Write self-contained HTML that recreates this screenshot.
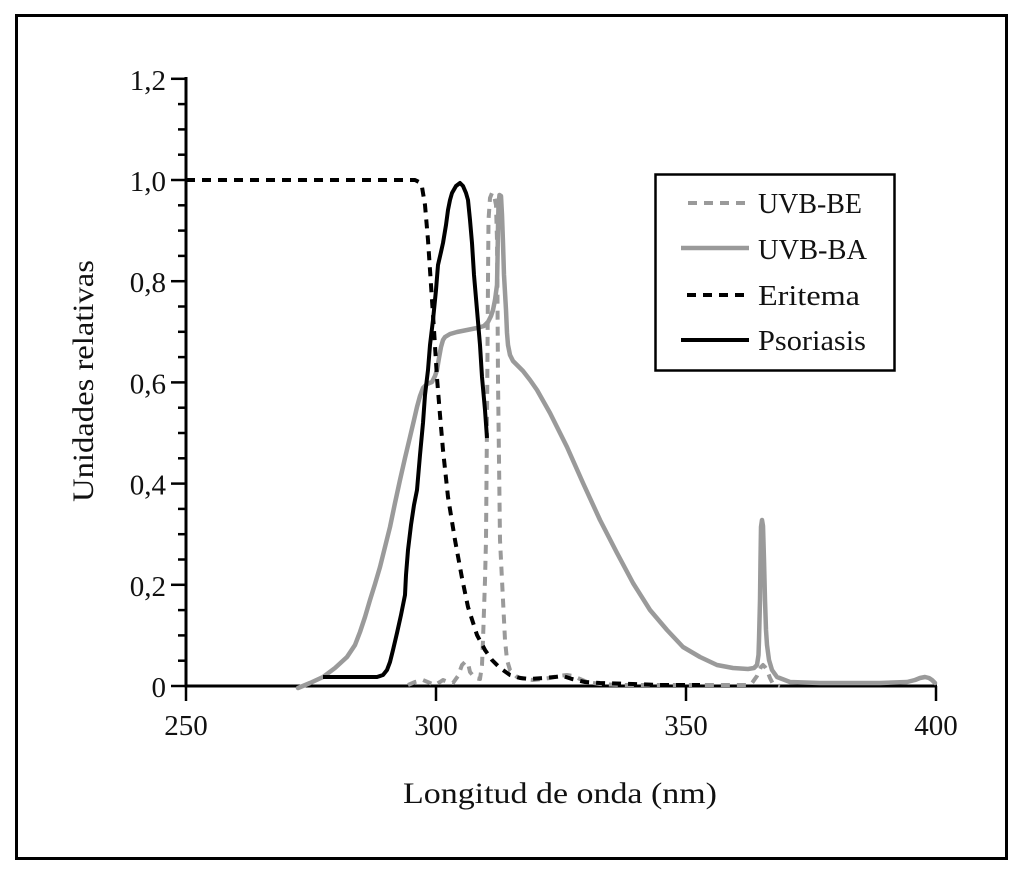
<!DOCTYPE html>
<html>
<head>
<meta charset="utf-8">
<style>
  html, body { margin: 0; padding: 0; background: #fff; }
  svg { display: block; }
  text { font-family: "Liberation Serif", serif; fill: #111; }
</style>
</head>
<body>
<svg width="1024" height="875" viewBox="0 0 1024 875" xmlns="http://www.w3.org/2000/svg">
  <rect x="0" y="0" width="1024" height="875" fill="#fff"/>
  <!-- outer frame -->
  <rect x="16.5" y="15.5" width="990" height="843" fill="none" stroke="#000" stroke-width="3"/>

  <!-- axes -->
  <g stroke="#000" stroke-width="3" fill="none">
    <line x1="186" y1="77" x2="186" y2="687"/>
    <line x1="184.5" y1="686" x2="937" y2="686"/>
  </g>
  <!-- y ticks major -->
  <g stroke="#000" stroke-width="2.5">
    <line x1="171" y1="686" x2="186" y2="686"/>
    <line x1="171" y1="584.8" x2="186" y2="584.8"/>
    <line x1="171" y1="483.6" x2="186" y2="483.6"/>
    <line x1="171" y1="382.4" x2="186" y2="382.4"/>
    <line x1="171" y1="281.2" x2="186" y2="281.2"/>
    <line x1="171" y1="180" x2="186" y2="180"/>
    <line x1="171" y1="78.8" x2="186" y2="78.8"/>
  </g>
  <!-- y ticks minor -->
  <g stroke="#000" stroke-width="2.5">
    <line x1="178" y1="660.7" x2="186" y2="660.7"/>
    <line x1="178" y1="635.4" x2="186" y2="635.4"/>
    <line x1="178" y1="610.1" x2="186" y2="610.1"/>
    <line x1="178" y1="559.5" x2="186" y2="559.5"/>
    <line x1="178" y1="534.2" x2="186" y2="534.2"/>
    <line x1="178" y1="508.9" x2="186" y2="508.9"/>
    <line x1="178" y1="458.3" x2="186" y2="458.3"/>
    <line x1="178" y1="433" x2="186" y2="433"/>
    <line x1="178" y1="407.7" x2="186" y2="407.7"/>
    <line x1="178" y1="357.1" x2="186" y2="357.1"/>
    <line x1="178" y1="331.8" x2="186" y2="331.8"/>
    <line x1="178" y1="306.5" x2="186" y2="306.5"/>
    <line x1="178" y1="255.9" x2="186" y2="255.9"/>
    <line x1="178" y1="230.6" x2="186" y2="230.6"/>
    <line x1="178" y1="205.3" x2="186" y2="205.3"/>
    <line x1="178" y1="154.7" x2="186" y2="154.7"/>
    <line x1="178" y1="129.4" x2="186" y2="129.4"/>
    <line x1="178" y1="104.1" x2="186" y2="104.1"/>
  </g>
  <!-- x ticks -->
  <g stroke="#000" stroke-width="2.5">
    <line x1="186" y1="686" x2="186" y2="701"/>
    <line x1="436" y1="686" x2="436" y2="701"/>
    <line x1="686" y1="686" x2="686" y2="701"/>
    <line x1="936" y1="686" x2="936" y2="701"/>
  </g>

  <!-- y labels -->
  <g font-size="29" text-anchor="end">
    <text x="166" y="697">0</text>
    <text x="166" y="595.8">0,2</text>
    <text x="166" y="494.6">0,4</text>
    <text x="166" y="393.4">0,6</text>
    <text x="166" y="292.2">0,8</text>
    <text x="166" y="191">1,0</text>
    <text x="166" y="89.8">1,2</text>
  </g>
  <!-- x labels -->
  <g font-size="29" text-anchor="middle">
    <text x="186" y="735">250</text>
    <text x="436" y="735">300</text>
    <text x="686" y="735">350</text>
    <text x="936" y="735">400</text>
  </g>

  <!-- axis titles -->
  <text x="403" y="803" font-size="30" textLength="314" lengthAdjust="spacingAndGlyphs">Longitud de onda (nm)</text>
  <text x="93" y="381" font-size="30" text-anchor="middle" transform="rotate(-90 93 381)" textLength="242" lengthAdjust="spacingAndGlyphs">Unidades relativas</text>

  <!-- UVB-BA gray solid -->
  <polyline fill="none" stroke="#9a9a9a" stroke-width="4.5" stroke-linejoin="round" stroke-linecap="round"
    points="298,688 310,683 323,677 335,668 347,657 355,645 360,632 365,617 370,600 375,584 380,567 385,547 390,527 395,503 400,480 405,458 410,437 414,420 417,407 420,396 423,388 427,384 432,382 435,376 437,370 439,358 441,347 443,340 445,337 450,334 457,332 467,330 477,328 484,326 488,322 491,316 493,310 495,300 497,285 497.5,260 498,227 498.5,205 499.5,195 501,196 502,215 503,243 504,275 506,310 507,333 508,345 510,355 513,361 518,366 523,371 530,380 537,390 550,413 567,447 583,483 600,520 617,553 633,583 650,610 667,630 683,647 700,657 717,665 733,668 748,669 754,668 757,665 758.5,655 759,640 760,600 760.5,560 761,527 762,520 763,526 764,560 765,600 766,630 767,645 769,660 772,670 777,677 790,682 820,683 847,683 880,683 907,682 915,680 920,678 925,677 929,678 932,680 935,683"/>

  <!-- UVB-BE gray dashed -->
  <polyline fill="none" stroke="#9a9a9a" stroke-width="4" stroke-dasharray="9 7" stroke-linejoin="round"
    points="408,685 415,682 423,680 430,683 435,685 440,682 443,680 448,682 453,683 458,676 462,665 465,662 468,663 470,672 475,678 480,679 482,665 483,640 484,610 485,580 486,540 486.5,480 487,420 487.5,350 488,280 488.5,220 490,198 492,193 494,195 496,205 497,240 497.5,300 498,380 499,460 500,540 502,580 503,600 505,640 507,660 510,670 517,677 525,679 533,680 542,679 550,678 558,676 567,675 573,676 580,679 587,682 600,684 620,685 640,685 700,685 748,685 752,683 757,676 761,667 763,665 765,667 767,670 770,678 773,684 780,686"/>

  <!-- Eritema black dashed -->
  <polyline fill="none" stroke="#000" stroke-width="4" stroke-dasharray="9 7" stroke-linejoin="round"
    points="186,180 415,180 419,182 422,187 425,205 428,240 431,285 434,330 437,378 440,415 443,450 448,497 455,540 462,578 468,607 477,635 485,650 492,660 500,668 510,675 520,678 530,679 543,678 555,677 563,676 572,679 585,682 600,683 633,684 660,685 700,685"/>

  <!-- Psoriasis black solid -->
  <polyline fill="none" stroke="#000" stroke-width="4" stroke-linejoin="round"
    points="323,677 377,677 383,675 387,670 390,662 393,650 397,633 401,615 405,595 406,575 408,550 411,525 414,505 417,490 420,455 423,423 425,395 428,370 430,345 433,320 436,290 438,265 441,252 443,243 446,225 448,210 450,200 452,193 456,186 460,183 463,186 466,193 468,200 470,220 472,243 474,275 477,310 480,345 482,377 485,410 487,438"/>

  <!-- legend -->
  <rect x="655.5" y="174.5" width="239" height="196" fill="#fff" stroke="#000" stroke-width="2.5"/>
  <line x1="688" y1="203" x2="749" y2="203" stroke="#9a9a9a" stroke-width="4" stroke-dasharray="9 7"/>
  <line x1="681" y1="248" x2="749" y2="248" stroke="#9a9a9a" stroke-width="4.5"/>
  <line x1="687" y1="295" x2="749" y2="295" stroke="#000" stroke-width="4" stroke-dasharray="9 7"/>
  <line x1="681" y1="340" x2="749" y2="340" stroke="#000" stroke-width="4"/>
  <g font-size="29">
    <text x="758" y="213" textLength="104" lengthAdjust="spacingAndGlyphs">UVB-BE</text>
    <text x="758" y="259" textLength="109" lengthAdjust="spacingAndGlyphs">UVB-BA</text>
    <text x="758" y="305" textLength="102" lengthAdjust="spacingAndGlyphs">Eritema</text>
    <text x="758" y="350" textLength="108" lengthAdjust="spacingAndGlyphs">Psoriasis</text>
  </g>
</svg>
</body>
</html>
